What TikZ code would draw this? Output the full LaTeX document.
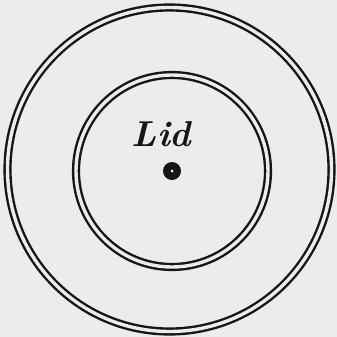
\documentclass[tikz,border=0pt]{standalone}
\usepackage{fontspec}
\usepackage{xcolor}
\definecolor{paper}{RGB}{236,236,236}
\definecolor{ink}{RGB}{22,22,22}

\begin{document}
\begin{tikzpicture}[
      x=1pt, y=-1pt,
      rim/.style={circle, draw=ink, double=paper, double distance=3.4pt, line width=2.4pt, inner sep=0pt},
      hole/.style={circle, fill=ink, inner sep=0pt, minimum size=18pt},
      lbl/.style={font=\fontsize{36}{36}\selectfont\bfseries\itshape, text=ink, inner sep=0pt}
    ]
    \fill[paper] (0,0) rectangle (337,337);
    \useasboundingbox (0,0) rectangle (337,337);
    \node[rim, minimum size=324pt] (outer) at (169.5,169.5) {};
    \node[rim, minimum size=192pt] (inner) at (172,171) {};
    \node[hole] (pin) at (172,171) {};
    \fill[white] (pin.center) circle (1.5pt);
    \node[lbl] (lid) at (161.5,134) {Lid};
  \end{tikzpicture}
\end{document}
